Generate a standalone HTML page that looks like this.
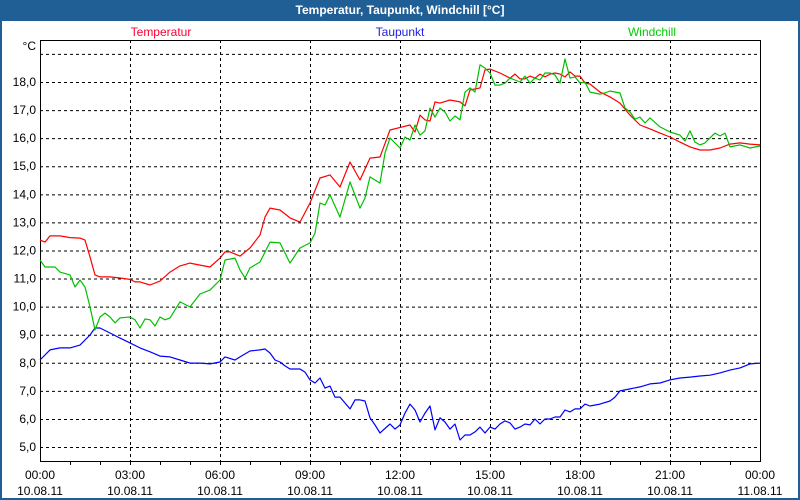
<!DOCTYPE html>
<html><head><meta charset="utf-8"><style>
html,body{margin:0;padding:0;}
body{width:800px;height:500px;overflow:hidden;background:#1f5f96;font-family:"Liberation Sans",sans-serif;}
#title{position:absolute;left:0;top:0;width:800px;height:20px;line-height:20px;text-align:center;color:#fff;font-weight:bold;font-size:12px;}
#panel{position:absolute;left:2px;top:21px;width:796px;height:477px;background:#fff;}
svg{position:absolute;left:0;top:0;}
</style></head><body>
<div id="title">Temperatur, Taupunkt, Windchill [°C]</div>
<div id="panel"></div>
<svg id="chart" width="800" height="500"></svg>
<script>
const tempTimes=[0,10,20,40,60,80,90,100,110,120,140,160,180,190,200,220,240,260,280,300,320,340,360,370,380,400,420,440,450,460,480,500,520,540,560,580,600,620,640,660,680,700,740,750,760,770,780,790,800,820,840,850,860,870,880,890,900,920,940,950,960,970,980,990,1000,1010,1020,1030,1040,1050,1060,1070,1080,1090,1100,1120,1140,1160,1180,1200,1220,1240,1260,1280,1300,1320,1340,1360,1380,1400,1420,1440];
const tempValues=[12.37,12.30,12.52,12.52,12.46,12.44,12.37,11.77,11.13,11.06,11.06,11.02,10.97,10.88,10.88,10.77,10.91,11.23,11.45,11.55,11.48,11.41,11.73,11.95,11.95,11.80,12.09,12.55,13.19,13.51,13.44,13.16,13.01,13.69,14.58,14.69,14.26,15.15,14.51,15.29,15.33,16.29,16.47,16.22,16.82,16.65,16.61,17.29,17.25,17.36,17.29,17.15,17.72,17.75,17.79,18.43,18.46,18.32,18.14,18.28,18.11,18.11,18.21,18.14,18.28,18.18,18.28,18.32,18.28,18.18,18.36,18.21,18.21,17.96,17.93,17.64,17.47,17.25,16.82,16.47,16.33,16.18,16.04,15.86,15.69,15.58,15.58,15.65,15.79,15.83,15.79,15.76,15.69];
const windTimes=[0,10,30,40,60,70,80,90,100,110,120,130,140,150,160,180,190,200,210,220,230,240,250,260,280,300,320,340,360,370,390,400,410,420,440,460,480,500,520,540,550,560,570,580,600,620,640,650,660,680,690,700,720,730,740,750,760,770,780,790,800,810,820,830,840,850,860,870,880,890,900,910,920,930,940,950,960,970,980,990,1000,1010,1020,1030,1040,1050,1060,1070,1080,1090,1100,1120,1130,1140,1160,1170,1180,1190,1200,1210,1220,1240,1260,1280,1290,1300,1310,1320,1330,1340,1350,1360,1370,1380,1400,1420,1440];
const windValues=[11.66,11.41,11.41,11.23,11.13,10.70,10.95,10.70,9.99,9.17,9.63,9.77,9.63,9.42,9.60,9.63,9.53,9.24,9.56,9.53,9.31,9.63,9.53,9.60,10.17,9.99,10.45,10.59,10.95,11.66,11.73,11.31,11.02,11.38,11.59,12.30,12.27,11.55,12.09,12.27,12.62,13.69,13.62,13.98,13.19,14.44,13.51,13.87,14.62,14.40,15.47,16.01,15.65,16.04,15.93,16.47,16.11,16.26,17.07,16.75,17.07,16.93,16.61,16.79,16.65,17.64,17.79,17.64,18.61,18.50,18.32,17.89,17.89,17.96,18.14,18.07,18.00,18.21,17.96,18.14,18.07,18.32,18.32,18.25,17.96,18.82,18.14,18.18,17.96,18.00,17.64,17.57,17.61,17.68,17.61,17.07,16.93,16.68,16.75,16.54,16.72,16.40,16.22,16.11,15.90,16.26,15.86,15.76,15.83,16.01,16.18,16.08,16.18,15.69,15.76,15.65,15.72];
const dewTimes=[0,20,40,60,80,100,110,120,140,160,180,200,220,240,260,280,300,320,340,360,370,390,400,420,440,450,460,470,480,490,500,520,530,540,550,560,570,580,590,600,610,620,630,640,650,660,670,680,700,710,720,730,740,750,760,770,780,790,800,810,820,830,840,850,860,870,880,890,900,910,920,930,940,950,960,970,980,990,1000,1010,1020,1030,1040,1050,1060,1070,1080,1090,1100,1120,1140,1150,1160,1180,1200,1220,1240,1260,1280,1300,1320,1340,1360,1380,1400,1420,1440];
const dewValues=[8.10,8.46,8.53,8.53,8.63,8.99,9.24,9.24,9.06,8.88,8.71,8.53,8.39,8.24,8.21,8.10,7.99,7.99,7.96,8.03,8.21,8.10,8.21,8.42,8.46,8.49,8.35,8.10,8.03,7.89,7.78,7.78,7.67,7.39,7.28,7.46,7.10,7.17,6.78,6.78,6.57,6.36,6.68,6.68,6.64,6.04,5.79,5.50,5.82,5.64,5.79,6.21,6.53,6.32,5.89,6.21,6.46,5.61,6.04,5.89,5.64,5.82,5.25,5.43,5.43,5.54,5.71,5.50,5.71,5.64,5.82,5.93,5.86,5.64,5.71,5.82,5.79,6.00,5.82,6.00,6.00,6.07,6.07,6.32,6.25,6.36,6.36,6.53,6.46,6.53,6.64,6.78,7.00,7.07,7.14,7.25,7.28,7.39,7.46,7.49,7.53,7.56,7.64,7.74,7.82,7.96,7.99];
const yTicks=[5,6,7,8,9,10,11,12,13,14,15,16,17,18,19];
const yTickLabels=["5,0","6,0","7,0","8,0","9,0","10,0","11,0","12,0","13,0","14,0","15,0","16,0","17,0","18,0",""];
const xTicks=[0,180,360,540,720,900,1080,1260,1440];
const xTimeLabels=["00:00","03:00","06:00","09:00","12:00","15:00","18:00","21:00","00:00"];
const xDateLabels=["10.08.11","10.08.11","10.08.11","10.08.11","10.08.11","10.08.11","10.08.11","10.08.11","11.08.11"];

const L=40,R=760,T=40,B=461;
const xs=m=>L+(m/1440)*(R-L);
const ys=v=>82+(18-v)*28.08;
const NS='http://www.w3.org/2000/svg';
const svg=document.getElementById('chart');
function mk(tag,attrs){const e=document.createElementNS(NS,tag);for(const k in attrs)e.setAttribute(k,attrs[k]);svg.appendChild(e);return e;}

yTicks.forEach((v,i)=>{
  const g=mk('line',{x1:L,x2:R,y1:ys(v)+0.5,y2:ys(v)+0.5,stroke:'#000','stroke-dasharray':'3,3','stroke-width':1});
  
  
  if(yTickLabels[i]){
    const t=mk('text',{x:36,y:ys(v)+4,'text-anchor':'end','font-size':12,fill:'#000','font-family':'Liberation Sans, sans-serif'});
    t.textContent=yTickLabels[i];
    
    
  }
});
for(let h=1;h<24;h++){
  const tk=mk('line',{x1:xs(h*60)+0.5,x2:xs(h*60)+0.5,y1:B,y2:B+4,stroke:'#000'});
  
  
}
xTicks.forEach((m,i)=>{
  if(i>0&&i<xTicks.length-1){
    const g=mk('line',{x1:xs(m)+0.5,x2:xs(m)+0.5,y1:T,y2:B+4,stroke:'#000','stroke-dasharray':'3,3'});
    
    
  }
  const t1=mk('text',{x:xs(m),y:479,'text-anchor':'middle','font-size':12,fill:'#000','font-family':'Liberation Sans, sans-serif'});
  t1.textContent=xTimeLabels[i];
  
  
  const t2=mk('text',{x:xs(m),y:495,'text-anchor':'middle','font-size':12,fill:'#000','font-family':'Liberation Sans, sans-serif'});
  t2.textContent=xDateLabels[i];
  
  
});
const box=mk('rect',{x:L+0.5,y:T+0.5,width:R-L,height:B-T,fill:'none',stroke:'#000','stroke-width':1});



function series(times,vals,color,name){
  const n=Math.min(times.length,vals.length);
  let d='';
  for(let i=0;i<n;i++)d+=(i?'L':'M')+xs(times[i]).toFixed(1)+','+ys(vals[i]).toFixed(1);
  const p=mk('path',{d:d,fill:'none',stroke:color,'stroke-width':1.2,'stroke-linejoin':'round'});
  
  
}
series(dewTimes,dewValues,'#0000ff','taupunkt-line');
series(tempTimes,tempValues,'#ff0000','temperatur-line');
series(windTimes,windValues,'#00c000','windchill-line');

const unit=mk('text',{x:36,y:50,'text-anchor':'end','font-size':12,fill:'#000','font-family':'Liberation Sans, sans-serif'});
unit.textContent='°C';


[['Temperatur',161,'#ff0033'],['Taupunkt',400,'#2020e0'],['Windchill',652,'#00cc00']].forEach(a=>{
  const t=mk('text',{x:a[1],y:36,'text-anchor':'middle','font-size':12,fill:a[2],'font-family':'Liberation Sans, sans-serif'});
  t.textContent=a[0];
  
  
});
</script>
</body></html>
